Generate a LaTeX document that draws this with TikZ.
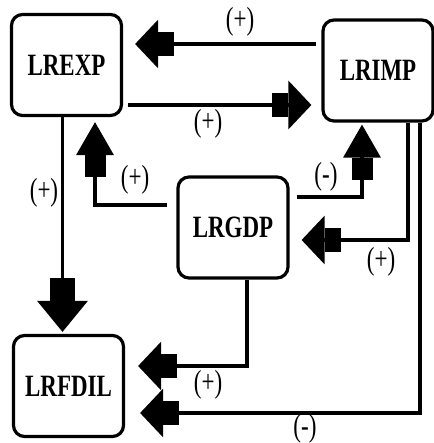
\documentclass[tikz,border=0pt]{standalone}
\usepackage{fontspec}
\setmainfont{Liberation Serif}
\usetikzlibrary{arrows.meta}

\begin{document}
\begin{tikzpicture}[x=1pt,y=1pt,yscale=-1,xscale=1,
    varbox/.style={draw,line width=3.2pt,rounded corners=11pt,minimum width=110pt,minimum height=101pt,inner sep=0pt,
        font=\fontsize{31}{33}\selectfont\bfseries},
    sign/.style={inner sep=0pt,font=\fontsize{32}{34}\selectfont},
    blk/.style n args={4}{line width=3.4pt,-{Rectangle[length=#1,width=#2,sep=0pt]Triangle[length=#3,width=#4]}},
    harrow/.style={blk={16pt}{24pt}{23pt}{48pt}},
    varrow/.style={blk={22pt}{21pt}{33pt}{37pt}}]
\useasboundingbox (0,0) rectangle (433,443);

%Boxes
    \node [varbox] (exp) at (66.5,65) {\scalebox{0.74}[1]{LREXP}};
    \node [varbox] (imp) at (378,70.5) {\scalebox{0.74}[1]{LRIMP}};
    \node [varbox] (gdp) at (233,227.5) {\scalebox{0.74}[1]{LRGDP}};
    \node [varbox] (fdil) at (68.5,386) {\scalebox{0.74}[1]{LRFDIL}};

%Connectors
    \draw [harrow,shorten <=5pt,shorten >=12pt] ([yshift=-26.5pt]imp.west) -- ([yshift=-26.5pt]imp.west -| exp.east);
    \draw [harrow,shorten <=5pt,shorten >=10pt] ([yshift=40pt]exp.east) -- ([yshift=40pt]exp.east -| imp.west);
    \draw [blk={23pt}{25pt}{31pt}{50pt},shorten >=2pt] ([xshift=-4pt]exp.south) -- ([xshift=-4pt]exp.south |- fdil.north);
    \draw [varrow,shorten <=9pt,shorten >=5pt] ([yshift=-22.5pt]gdp.west) -| ([xshift=28.5pt]exp.south);
    \draw [varrow,shorten <=7pt,shorten >=2pt] ([yshift=-30.5pt]gdp.east) -| ([xshift=-16pt]imp.south);
    \draw [harrow,shorten >=12pt] ([xshift=30pt]imp.south) |- ([yshift=12.5pt]gdp.east);
    \draw [harrow,shorten >=13pt] ([xshift=14pt]gdp.south) |- ([yshift=-20pt]fdil.east);
    \draw [harrow,shorten >=15pt] ([xshift=42pt]imp.south) |- ([yshift=27pt]fdil.east);

% Text Node
    \node [sign] (s1) at (240,22) {\scalebox{0.72}[1]{(+)}};
    \node [sign] (s2) at (208,124) {\scalebox{0.72}[1]{(+)}};
    \node [sign] (s3) at (44,193) {\scalebox{0.72}[1]{(+)}};
    \node [sign] (s4) at (135,180) {\scalebox{0.72}[1]{(+)}};
    \node [sign] (s5) at (326,177) {\scalebox{0.72}[1]{(-)}};
    \node [sign] (s6) at (381,262) {\scalebox{0.72}[1]{(+)}};
    \node [sign] (s7) at (208,385) {\scalebox{0.72}[1]{(+)}};
    \node [sign] (s8) at (305,429) {\scalebox{0.72}[1]{(-)}};

\end{tikzpicture}
\end{document}
